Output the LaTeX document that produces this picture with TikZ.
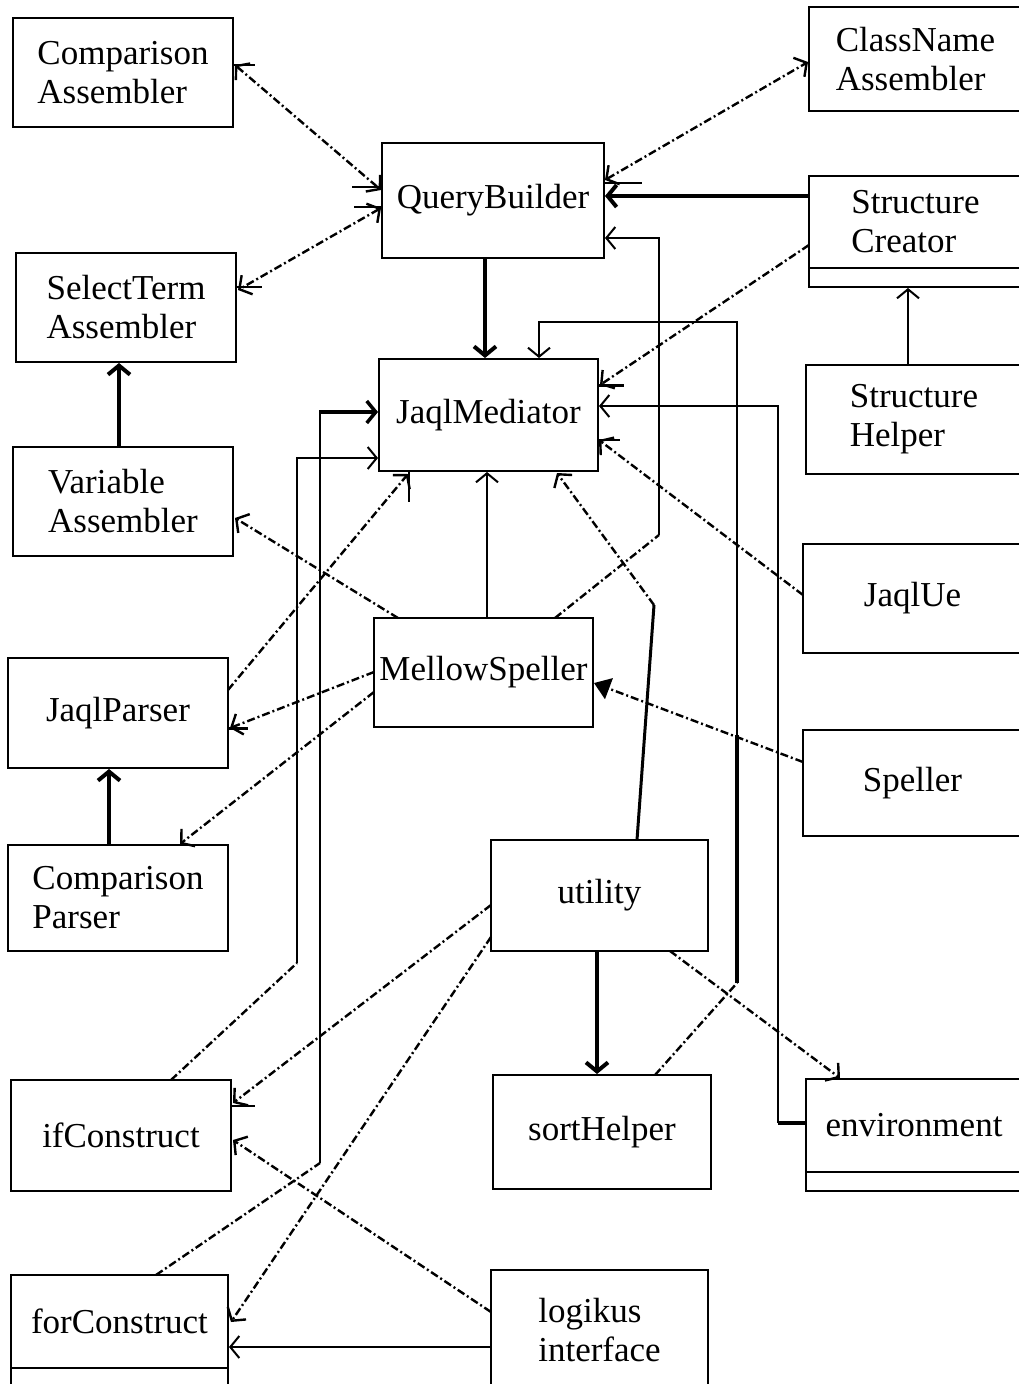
\documentclass[tikz,border=0pt]{standalone}
\usepackage{fontspec}
\setmainfont{Liberation Serif}
\usetikzlibrary{arrows.meta,calc}
\begin{document}
\begin{tikzpicture}[x=1pt,y=-1pt,
 box/.style={draw,line width=2pt,inner sep=0pt,outer sep=0pt,align=left,font=\fontsize{35}{39}\selectfont},
 comp/.style={draw,line width=2pt,inner sep=0pt,outer sep=0pt},
 dep/.style={line width=2.4pt,dash pattern=on 8pt off 3pt on 2pt off 3pt},
 thinline/.style={line width=2pt},
 thickline/.style={line width=4pt},
 tickline/.style={line width=2pt},
 >={Straight Barb[length=9pt,width=22pt]}]
\useasboundingbox (0,0) rectangle (1019,1384);
\clip (0,0) rectangle (1019,1384);
% boxes
\node[box,minimum width=220pt,minimum height=109pt] (ca) at (123,72.5) {Comparison\\Assembler};
\node[box,minimum width=213pt,minimum height=104pt] (cna) at (915.5,59) {ClassName\\Assembler};
\node[box,minimum width=222pt,minimum height=115pt] (qb) at (493,200.5) {QueryBuilder};
\node[box,minimum width=213pt,minimum height=92pt] (sc) at (915.5,222) {Structure\\Creator};
\node[comp,minimum width=213pt,minimum height=19pt,anchor=north] (scx) at (sc.south) {};
\node[box,minimum width=220pt,minimum height=109pt] (sta) at (126,307.5) {SelectTerm\\Assembler};
\node[box,minimum width=219pt,minimum height=112pt] (jm) at (488.5,415) {JaqlMediator};
\node[box,minimum width=216pt,minimum height=109pt] (sh) at (914,419.5) {Structure\\Helper};
\node[box,minimum width=220pt,minimum height=109pt] (va) at (123,501.5) {Variable\\Assembler};
\node[box,minimum width=219pt,minimum height=109pt] (jue) at (912.5,598.5) {JaqlUe};
\node[box,minimum width=219pt,minimum height=109pt] (ms) at (483.5,672.5) {MellowSpeller};
\node[box,minimum width=220pt,minimum height=110pt] (jp) at (118,713) {JaqlParser};
\node[box,minimum width=219pt,minimum height=106pt] (sp) at (912.5,783) {Speller};
\node[box,minimum width=220pt,minimum height=106pt] (cp) at (118,898) {Comparison\\Parser};
\node[box,minimum width=217pt,minimum height=111pt] (ut) at (599.5,895.5) {utility};
\node[box,minimum width=220pt,minimum height=111pt] (ic) at (121,1135.5) {ifConstruct};
\node[box,minimum width=218pt,minimum height=114pt] (shp) at (602,1132) {sortHelper};
\node[box,minimum width=216pt,minimum height=93pt] (env) at (914,1125.5) {environment};
\node[comp,minimum width=216pt,minimum height=19pt,anchor=north] (envx) at (env.south) {};
\node[box,minimum width=217pt,minimum height=93pt] (fc) at (119.5,1321.5) {forConstruct};
\node[comp,minimum width=217pt,minimum height=22pt,anchor=north] (fcx) at (fc.south) {};
\node[box,minimum width=217pt,minimum height=120pt] (li) at (599.5,1330) {logikus\\interface};
% helper coordinates
\coordinate (k6a) at (659,535); \coordinate (k6b) at (659,238);
\coordinate (k9a) at (737,983); \coordinate (k9b) at (737,735);
\coordinate (k9c) at (737,322); \coordinate (k9d) at (539,322);
\coordinate (k10a) at (778,1123); \coordinate (k10b) at (778,406);
\coordinate (k20) at (654,605);
\coordinate (k21a) at (297,963); \coordinate (k21b) at (297,458);
\coordinate (k22a) at (320,1163); \coordinate (k22b) at (320,412);
% connectors
\draw[dep,<->] ($(ca.north east)+(2,47)$) -- ($(qb.north west)+(-1,47)$);
\draw[dep,<->] ($(qb.north west)+(-1,65)$) -- ($(sta.north east)+(2,37)$);
\draw[dep,<->] ($(qb.north east)+(1,37)$) -- ($(cna.north west)+(-1,55)$);
\draw[thickline,->] ($(sc.north west)+(0,20)$) -- ($(qb.north east)+(1,53)$);
\draw[thickline,->] ($(qb.south west)+(103,0)$) -- ($(jm.north west)+(106,-1)$);
\draw[dep] ($(ms.north west)+(181,0)$) -- (k6a);
\draw[thinline,->] (k6a) -- (k6b) -- ($(qb.north east)+(1,95)$);
\draw[dep,->] ($(sc.north west)+(0,69)$) -- ($(jm.north east)+(2,26)$);
\draw[thinline,->] ($(sh.north west)+(102,0)$) -- ($(scx.south west)+(99,1)$);
\draw[dep] ($(shp.north west)+(162,0)$) -- (k9a);
\draw[thickline] (k9a) -- (k9b);
\draw[thinline,->] (k9b) -- (k9c) -- (k9d) -- ($(jm.north west)+(160,-1)$);
\draw[thickline] ($(env.north west)+(0,44)$) -- (k10a);
\draw[thinline,->] (k10a) -- (k10b) -- ($(jm.north east)+(1,47)$);
\draw[dep,->] ($(jue.north west)+(0,51)$) -- ($(jm.north east)+(1,81)$);
\draw[thinline,->] ($(ms.north west)+(113,0)$) -- ($(jm.south west)+(108,1)$);
\draw[dep,->] ($(ms.north west)+(24,0)$) -- ($(va.north east)+(2,71)$);
\draw[dep,->] ($(jp.north east)+(0,32)$) -- ($(jm.south west)+(29,3)$);
\draw[dep,->] ($(ms.north west)+(0,54)$) -- ($(jp.north east)+(2,70)$);
\draw[dep,->] ($(ms.north west)+(0,74)$) -- ($(cp.north east)+(-48,-1)$);
\draw[thickline,->] ($(cp.north west)+(101,0)$) -- ($(jp.south west)+(101,1)$);
\draw[thickline,->] ($(va.north west)+(106,0)$) -- ($(sta.south west)+(103,1)$);
\draw[dep,-{Triangle[length=16pt,width=22pt]}] ($(sp.north west)+(0,32)$) -- ($(ms.north east)+(1,65)$);
\draw[line width=3pt] ($(ut.north west)+(146,0)$) -- (k20);
\draw[dep,->] (k20) -- ($(jm.south west)+(178,2)$);
\draw[dep] ($(ic.north west)+(160,0)$) -- (k21a);
\draw[thinline,->] (k21a) -- (k21b) -- ($(jm.north west)+(-1,99)$);
\draw[dep] ($(fc.north west)+(145,0)$) -- (k22a);
\draw[thinline] (k22a) -- (k22b);
\draw[line width=3.5pt,->] ($(k22b)+(-1,0)$) -- ($(jm.north west)+(-1,53)$);
\draw[dep,->] ($(ut.north west)+(0,65)$) -- ($(ic.north east)+(2,23)$);
\draw[dep,->] ($(ut.north west)+(0,97)$) -- ($(fc.north east)+(3,47)$);
\draw[dep,->] ($(li.north west)+(0,42)$) -- ($(ic.north east)+(2,60)$);
\draw[thinline,->] ($(li.north west)+(0,77)$) -- ($(fc.north east)+(1,72)$);
\draw[thickline,->] ($(ut.south west)+(106,0)$) -- ($(shp.north west)+(104,-1)$);
\draw[dep,->] ($(ut.south west)+(179,0)$) -- ($(env.north west)+(34,-1)$);
% small arrowhead strokes
\draw[tickline] ($(ca.north east)+(0,47)$) -- ++(22,0);
\draw[tickline] ($(qb.north west)+(0,44)$) -- ++(-30,0);
\draw[tickline] ($(qb.north west)+(0,64)$) -- ++(-28,0);
\draw[tickline] ($(qb.north east)+(0,40)$) -- ++(38,0);
\draw[tickline] ($(sta.north east)+(0,34)$) -- ++(26,0);
\draw[line width=3pt] ($(jm.north east)+(0,26)$) -- ++(26,0);
\draw[tickline] ($(jm.north east)+(0,81)$) -- ++(22,0);
\draw[tickline] ($(jm.south west)+(30,0)$) -- ++(0,31);
\draw[line width=3pt] ($(jp.north east)+(0,70)$) -- ++(20,0);
\draw[tickline] ($(ic.north east)+(0,26)$) -- ++(24,0);
\end{tikzpicture}
\end{document}
